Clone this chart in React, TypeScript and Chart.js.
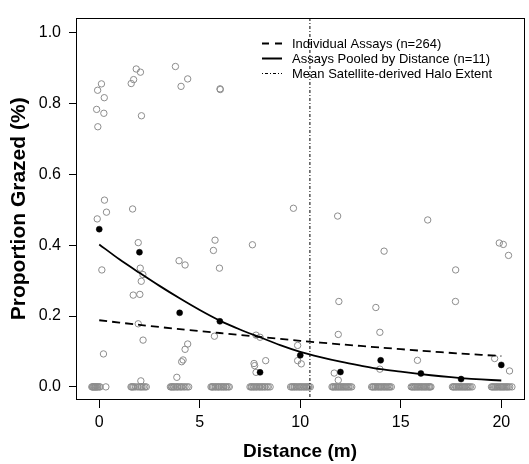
import React, { useEffect, useRef } from "react";
import { Chart, registerables } from "chart.js";

Chart.register(...registerables);

const FONT = "'Liberation Sans', Arial, Helvetica, sans-serif";

// axis ticks
const xTickValues = [0, 5, 10, 15, 20];
const yTickValues = [0, 0.2, 0.4, 0.6, 0.8, 1.0];

// pooled distances and mean proportion grazed (filled dots)
const pooledDistance = [0, 2, 4, 6, 8, 10, 12, 14, 16, 18, 20];
const pooledMean = [0.445, 0.38, 0.209, 0.185, 0.041, 0.089, 0.042, 0.075, 0.038, 0.022, 0.062];

// fitted curve: assays pooled by distance (solid)
const pooledFitX = [0, 1, 2, 3, 4, 5, 6, 7, 8, 9, 10, 11, 12, 13, 14, 15, 16, 17, 18, 19, 20];
const pooledFitY = [0.402, 0.36, 0.322, 0.285, 0.25, 0.217, 0.187, 0.162, 0.14, 0.118, 0.099, 0.084, 0.071, 0.06, 0.05, 0.043, 0.036, 0.03, 0.025, 0.021, 0.018];

// fitted curve: individual assays (dashed)
const indivFitX = [0, 2, 4, 6, 8, 10, 12, 14, 16, 18, 20];
const indivFitY = [0.188, 0.175, 0.163, 0.152, 0.141, 0.13, 0.12, 0.111, 0.102, 0.094, 0.087];

// mean satellite-derived halo extent (m)
const haloExtent = 10.48;

// individual assays with non-zero grazing (jittered distance, proportion)
const assayX = [
  0.11, -0.08, 0.25, -0.13, 0.23, -0.07, 0.26, 0.36, -0.1, 0.13, 0.21,
  1.84, 2.05, 1.71, 1.59, 2.1, 1.66, 1.94, 2.04, 2.17, 2.09, 1.69, 2.02, 1.94, 2.18, 2.07,
  3.79, 4.4, 4.07, 3.97, 4.27, 4.4, 4.27, 4.17, 4.1, 3.86,
  6.01, 6.02, 5.76, 5.68, 5.98, 5.73,
  7.62, 7.8, 8.0, 7.7, 7.73, 8.28, 7.8,
  9.66, 9.87, 9.87, 10.05,
  11.86, 11.92, 11.89, 11.69, 11.89,
  14.17, 13.76, 13.96, 13.96,
  16.34, 15.83,
  17.73, 17.72,
  19.9, 20.1, 20.36, 19.67, 20.41,
];
const assayY = [
  0.855, 0.837, 0.816, 0.783, 0.772, 0.734, 0.527, 0.493, 0.474, 0.33, 0.093,
  0.897, 0.888, 0.867, 0.856, 0.765, 0.502, 0.407, 0.335, 0.317, 0.298, 0.259, 0.261, 0.178, 0.132, 0.017,
  0.904, 0.869, 0.848, 0.356, 0.344, 0.121, 0.106, 0.076, 0.071, 0.027,
  0.841, 0.839, 0.414, 0.385, 0.335, 0.143,
  0.401, 0.146, 0.14, 0.066, 0.06, 0.074, 0.041,
  0.504, 0.117, 0.074, 0.065,
  0.482, 0.241, 0.148, 0.039, 0.019,
  0.383, 0.224, 0.154, 0.05,
  0.471, 0.075,
  0.33, 0.241,
  0.406, 0.402, 0.371, 0.08, 0.045,
];

// individual assays with zero grazing (jittered distance)
const zeroAssayX = [
  -0.37, -0.33, -0.31, -0.27, -0.24, -0.2, -0.18, -0.14, -0.1, -0.07, 0.0, 0.04, 0.33,
  1.58, 1.62, 1.67, 1.72, 1.8, 1.91, 2.0, 2.07, 2.12, 2.19, 2.27, 2.34,
  3.54, 3.59, 3.63, 3.69, 3.73, 3.8, 3.87, 3.91, 3.99, 4.06, 4.11, 4.2, 4.27, 4.37, 4.45,
  5.56, 5.61, 5.64, 5.7, 5.77, 5.81, 5.89, 5.93, 5.98, 6.06, 6.1, 6.17, 6.21, 6.29, 6.33, 6.41, 6.47,
  7.5, 7.56, 7.6, 7.67, 7.71, 7.79, 7.83, 7.9, 7.97, 8.01, 8.09, 8.13, 8.21, 8.26, 8.35, 8.41, 8.5,
  9.52, 9.58, 9.62, 9.69, 9.73, 9.8, 9.85, 9.93, 9.97, 10.04, 10.08, 10.16, 10.2, 10.28, 10.32, 10.4, 10.44, 10.5,
  11.58, 11.63, 11.67, 11.74, 11.78, 11.85, 11.9, 11.96, 12.02, 12.07, 12.13, 12.18, 12.25, 12.3, 12.37, 12.42, 12.49, 12.56,
  13.55, 13.6, 13.64, 13.71, 13.75, 13.82, 13.88, 13.93, 14.0, 14.04, 14.11, 14.17, 14.22, 14.29, 14.34, 14.41, 14.46, 14.53,
  15.52, 15.57, 15.62, 15.68, 15.72, 15.79, 15.84, 15.9, 15.95, 16.02, 16.06, 16.13, 16.18, 16.24, 16.29, 16.36, 16.41, 16.45, 16.5,
  17.57, 17.62, 17.66, 17.73, 17.77, 17.84, 17.89, 17.95, 18.0, 18.06, 18.11, 18.18, 18.22, 18.29, 18.34, 18.4, 18.46, 18.55,
  19.51, 19.56, 19.61, 19.67, 19.72, 19.78, 19.83, 19.9, 19.95, 20.01, 20.06, 20.12, 20.17, 20.24, 20.29, 20.35, 20.42, 20.53,
];

const legendLabels = [
  "Individual Assays (n=264)",
  "Assays Pooled by Distance (n=11)",
  "Mean Satellite-derived Halo Extent",
];

const X_MIN = -1.156;
const X_MAX = 21.13;
const Y_MIN = -0.037;
const Y_MAX = 1.042;

const boxAndLegend = {
  id: "boxAndLegend",
  afterDraw(chart: any) {
    const { ctx, chartArea } = chart;
    const { left, top, right, bottom } = chartArea;
    ctx.save();
    ctx.strokeStyle = "#000";
    ctx.lineWidth = 1;
    ctx.setLineDash([]);
    ctx.strokeRect(Math.round(left) + 0.5, Math.round(top) + 0.5, Math.round(right - left), Math.round(bottom - top) - 1);

    // legend
    const lx0 = 262;
    const lx1 = 282;
    const tx = 292;
    const ys = [43, 58, 73];
    const dashes = [[7, 6], [], [1, 2, 3, 2]];
    const widths = [2, 2, 1];
    ctx.font = `13px ${FONT}`;
    ctx.fillStyle = "#000";
    ctx.textBaseline = "middle";
    ctx.textAlign = "left";
    legendLabels.forEach((label, i) => {
      ctx.beginPath();
      ctx.setLineDash(dashes[i]);
      ctx.lineWidth = widths[i];
      ctx.moveTo(lx0, ys[i] + 0.5);
      ctx.lineTo(lx1, ys[i] + 0.5);
      ctx.stroke();
      ctx.fillText(label, tx, ys[i] + 1);
    });
    ctx.restore();
  },
};

export default function App() {
  const ref = useRef<HTMLCanvasElement>(null);

  useEffect(() => {
    const assayPoints = assayX.map((x, i) => ({ x, y: assayY[i] }));
    const zeroPoints = zeroAssayX.map((x) => ({ x, y: 0 }));
    const chart = new Chart(ref.current as HTMLCanvasElement, {
      type: "scatter",
      data: {
        datasets: [
          {
            label: "Pooled means",
            data: pooledDistance.map((x, i) => ({ x, y: pooledMean[i] })),
            pointRadius: 3,
            pointBackgroundColor: "#000",
            pointBorderColor: "#000",
            pointBorderWidth: 0.5,
            showLine: false,
          },
          {
            label: "Pooled fit",
            data: pooledFitX.map((x, i) => ({ x, y: pooledFitY[i] })),
            showLine: true,
            borderColor: "#000",
            borderWidth: 1.8,
            pointRadius: 0,
            tension: 0.3,
          },
          {
            label: "Individual fit",
            data: indivFitX.map((x, i) => ({ x, y: indivFitY[i] })),
            showLine: true,
            borderColor: "#000",
            borderWidth: 1.8,
            borderDash: [8, 5],
            pointRadius: 0,
            tension: 0.3,
          },
          {
            label: "Halo",
            data: [
              { x: haloExtent, y: Y_MIN },
              { x: haloExtent, y: Y_MAX },
            ],
            showLine: true,
            borderColor: "#000",
            borderWidth: 1,
            borderDash: [1, 2, 3, 2],
            pointRadius: 0,
          },
          {
            label: "Individual assays",
            data: [...zeroPoints, ...assayPoints],
            pointRadius: 3.2,
            pointBackgroundColor: "rgba(0,0,0,0)",
            pointBorderColor: "#8c8c8c",
            pointBorderWidth: 1,
            showLine: false,
          },
        ],
      },
      options: {
        animation: false,
        responsive: false,
        devicePixelRatio: 1,
        layout: { padding: { top: 14, right: 0, left: 0, bottom: 0 } },
        plugins: {
          legend: { display: false },
          tooltip: { enabled: false },
        },
        scales: {
          x: {
            type: "linear",
            min: X_MIN,
            max: X_MAX,
            afterBuildTicks: (scale: any) => {
              scale.ticks = xTickValues.map((v) => ({ value: v }));
            },
            afterFit: (scale: any) => {
              scale.height = 64;
            },
            border: { display: false },
            grid: {
              drawOnChartArea: false,
              drawTicks: true,
              tickLength: 8,
              color: "#000",
              lineWidth: 1,
            },
            ticks: {
              color: "#000",
              font: { family: FONT, size: 16 },
              padding: 5,
              maxRotation: 0,
              autoSkip: false,
              callback: (v: any) => String(v),
            },
            title: {
              display: true,
              text: "Distance (m)",
              color: "#000",
              font: { family: FONT, size: 19, weight: "bold" },
              padding: { top: 0, bottom: 1 },
            },
          },
          y: {
            type: "linear",
            min: Y_MIN,
            max: Y_MAX,
            afterBuildTicks: (scale: any) => {
              scale.ticks = yTickValues.map((v) => ({ value: v }));
            },
            afterFit: (scale: any) => {
              scale.width = 76;
            },
            border: { display: false },
            grid: {
              drawOnChartArea: false,
              drawTicks: true,
              tickLength: 7,
              color: "#000",
              lineWidth: 1,
            },
            ticks: {
              color: "#000",
              font: { family: FONT, size: 16 },
              padding: 8,
              autoSkip: false,
              callback: (v: any) => Number(v).toFixed(1),
            },
            title: {
              display: true,
              text: "Proportion Grazed (%)",
              color: "#000",
              font: { family: FONT, size: 21, weight: "bold" },
              padding: { top: 7, bottom: 0 },
            },
          },
        },
      },
      plugins: [boxAndLegend],
    });
    return () => chart.destroy();
  }, []);

  return (
    <div style={{ position: "fixed", left: 0, top: 0, width: 529, height: 464, background: "#fff" }}>
      <canvas ref={ref} width={529} height={464} style={{ display: "block", width: 529, height: 464 }} />
    </div>
  );
}
